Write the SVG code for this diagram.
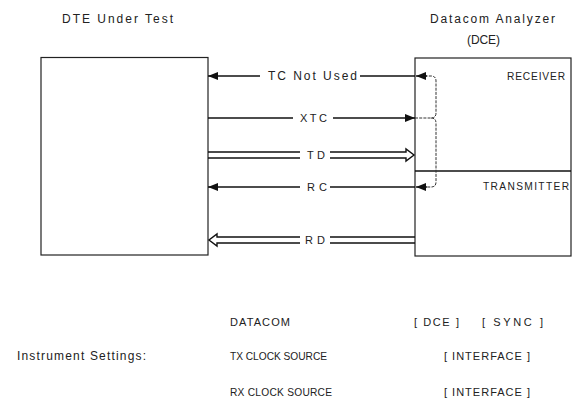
<svg xmlns="http://www.w3.org/2000/svg" width="572" height="409" viewBox="0 0 572 409">
<style>
text{font-family:"Liberation Sans","DejaVu Sans",Arial,sans-serif;font-size:12px;fill:#222}
.c{font-size:11px}
.s{font-size:10.2px}
.box{fill:#fff;stroke:#222;stroke-width:1.2}
.ln{fill:none;stroke:#111;stroke-width:1.4}
.br{fill:none;stroke:#333;stroke-width:1;stroke-dasharray:3 1.2}
</style>
<defs>
<marker id="ah" viewBox="0 0 10 8" refX="10" refY="4" markerWidth="10" markerHeight="8" markerUnits="userSpaceOnUse" orient="auto">
<path d="M0,0 L10,4 L0,8 z" fill="#111"/>
</marker>
</defs>
<rect width="572" height="409" fill="#fff"/>
<g id="dte">
<rect class="box" x="41" y="57.5" width="167" height="197.5"/>
<text x="62" y="23" textLength="111" lengthAdjust="spacing">DTE Under Test</text>
</g>
<g id="dce">
<rect class="box" x="415" y="58" width="156" height="198"/>
<line class="ln" x1="415" y1="171" x2="571" y2="171"/>
<text x="430" y="23" textLength="125" lengthAdjust="spacing">Datacom Analyzer</text>
<text x="467" y="44" textLength="33" lengthAdjust="spacing">(DCE)</text>
<text class="s" x="507" y="80" textLength="58" lengthAdjust="spacing">RECEIVER</text>
<text class="s" x="483" y="190" textLength="86" lengthAdjust="spacing">TRANSMITTER</text>
</g>
<g id="connectors">
<line class="ln" x1="260" y1="76" x2="208" y2="76" marker-end="url(#ah)"/>
<line class="ln" x1="360" y1="76" x2="415" y2="76"/>
<text x="268" y="80" textLength="89" lengthAdjust="spacing">TC Not Used</text>
<line class="ln" x1="208" y1="118" x2="293" y2="118"/>
<line class="ln" x1="333" y1="118" x2="415" y2="118" marker-end="url(#ah)"/>
<text class="c" x="300" y="122" textLength="27" lengthAdjust="spacing">XTC</text>
<path class="ln" d="M208,152 H300 M208,158 H300"/>
<path class="ln" d="M330,152 H406 V149 L414,155 L406,161 V158 H330"/>
<text class="c" x="307" y="159" textLength="18" lengthAdjust="spacing">TD</text>
<line class="ln" x1="300" y1="187" x2="208" y2="187" marker-end="url(#ah)"/>
<line class="ln" x1="330" y1="187" x2="415" y2="187"/>
<text class="c" x="307" y="191" textLength="20" lengthAdjust="spacing">RC</text>
<path class="ln" d="M300,237 H217 V234 L209,240 L217,246 V243 H300"/>
<path class="ln" d="M330,237 H415 M330,243 H415"/>
<text class="c" x="305" y="244" textLength="20" lengthAdjust="spacing">RD</text>
<path class="br" d="M415,118 H431 Q436,118 436,113 V81 Q436,76 431,76 H426"/>
<path class="br" d="M431,118 Q436,118 436,123 V182 Q436,187 431,187 H426"/>
<line class="ln" x1="427" y1="76" x2="416" y2="76" marker-end="url(#ah)"/>
<line class="ln" x1="427" y1="187" x2="416" y2="187" marker-end="url(#ah)"/>
</g>
<g id="settings">
<text class="c" x="230" y="326" textLength="60" lengthAdjust="spacing">DATACOM</text>
<text class="c" x="414" y="326" textLength="45" lengthAdjust="spacing">[ DCE ]</text>
<text class="c" x="482" y="326" textLength="61" lengthAdjust="spacing">[ SYNC ]</text>
<text x="17" y="360" textLength="129" lengthAdjust="spacing">Instrument Settings:</text>
<text class="s" x="230" y="360" textLength="97" lengthAdjust="spacing">TX CLOCK SOURCE</text>
<text class="c" x="444" y="360" textLength="86" lengthAdjust="spacing">[ INTERFACE ]</text>
<text class="s" x="230" y="396" textLength="102" lengthAdjust="spacing">RX CLOCK SOURCE</text>
<text class="c" x="444" y="396" textLength="86" lengthAdjust="spacing">[ INTERFACE ]</text>
</g>
</svg>
